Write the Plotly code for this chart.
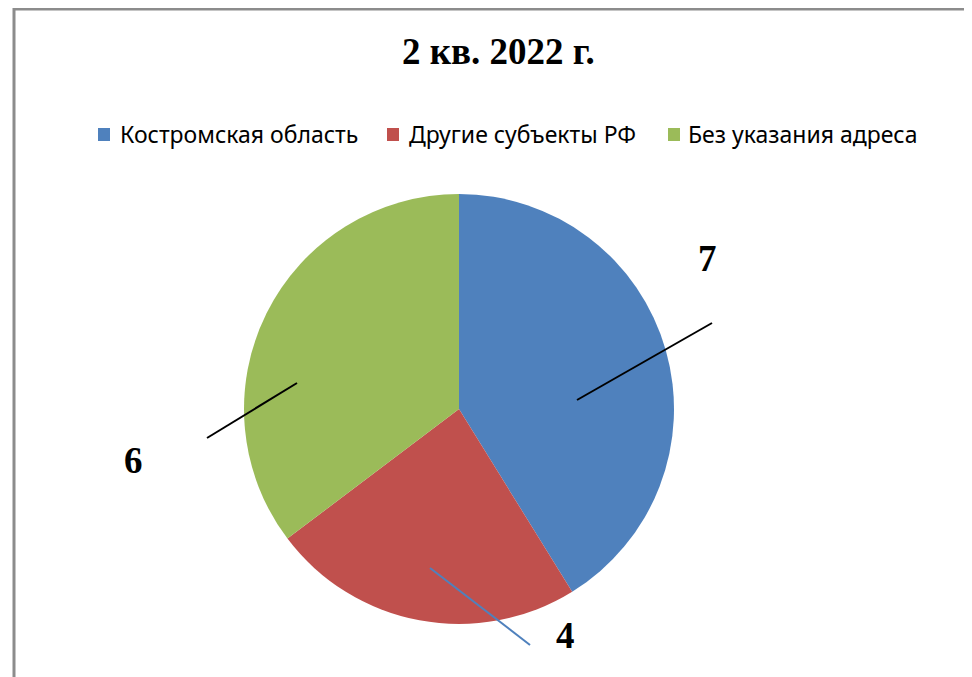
import plotly.graph_objects as go

categories = ["Костромская область", "Другие субъекты РФ", "Без указания адреса"]
values = [7, 4, 6]
colors = ["#4F81BD", "#C0504D", "#9BBB59"]
title_text = "2 кв. 2022 г."

OFF = 8  # page offset of the plot div
W, H = 972 - OFF, 677 - OFF

def px(x):
    return (x - OFF) / W

def py(y):
    return 1 - (y - OFF) / H

fig = go.Figure(go.Pie(
    labels=categories,
    values=values,
    sort=False,
    direction="clockwise",
    rotation=0,
    marker=dict(colors=colors, line=dict(width=0)),
    textinfo="none",
    hoverinfo="label+value",
    showlegend=False,
    domain=dict(x=[px(244), px(674)], y=[py(624), py(194)]),
))

# label positions and leader lines
label_pos = [(707, 258), (565, 635), (133, 460)]
line_seg = [((577, 400), (712, 323), "black"),
            ((430, 568), (530, 645), "#4F81BD"),
            ((297, 383), (207, 438), "black")]

# legend layout (square left x, text left x)
legend_x = [(98, 120), (387, 409), (668, 688)]
legend_y = 134

shapes = [dict(type="rect", xref="paper", yref="paper",
               x0=px(14), x1=px(1040), y0=py(740), y1=py(9),
               line=dict(color="#8C8C8C", width=3), fillcolor="rgba(0,0,0,0)")]
for (x0, y0), (x1, y1), c in line_seg:
    shapes.append(dict(type="line", xref="paper", yref="paper",
                       x0=px(x0), y0=py(y0), x1=px(x1), y1=py(y1),
                       line=dict(color=c, width=2)))

annotations = []
for (sx, tx), name, c in zip(legend_x, categories, colors):
    shapes.append(dict(type="rect", xref="paper", yref="paper",
                       x0=px(sx), x1=px(sx + 12), y0=py(legend_y + 7), y1=py(legend_y - 6),
                       line=dict(width=0), fillcolor=c))
    annotations.append(dict(x=px(tx - 2), y=py(legend_y), xref="paper", yref="paper",
                            text=name, showarrow=False,
                            font=dict(family="Noto Sans", size=23, color="black"),
                            xanchor="left", yanchor="middle"))

for (x, y), v in zip(label_pos, values):
    annotations.append(dict(x=px(x), y=py(y), xref="paper", yref="paper",
                            text=str(v), showarrow=False,
                            font=dict(family="Liberation Serif", size=37, color="black", weight="bold"),
                            xanchor="center", yanchor="middle"))
annotations.append(dict(x=px(499), y=py(51), xref="paper", yref="paper",
                        text="<b>" + title_text + "</b>", showarrow=False,
                        font=dict(family="Liberation Serif", size=37, color="black"),
                        xanchor="center", yanchor="middle"))

fig.update_layout(
    width=W, height=H,
    margin=dict(l=0, r=0, t=0, b=0),
    paper_bgcolor="white",
    plot_bgcolor="white",
    shapes=shapes,
    annotations=annotations,
    showlegend=False,
)

fig.write_html("out.html")
